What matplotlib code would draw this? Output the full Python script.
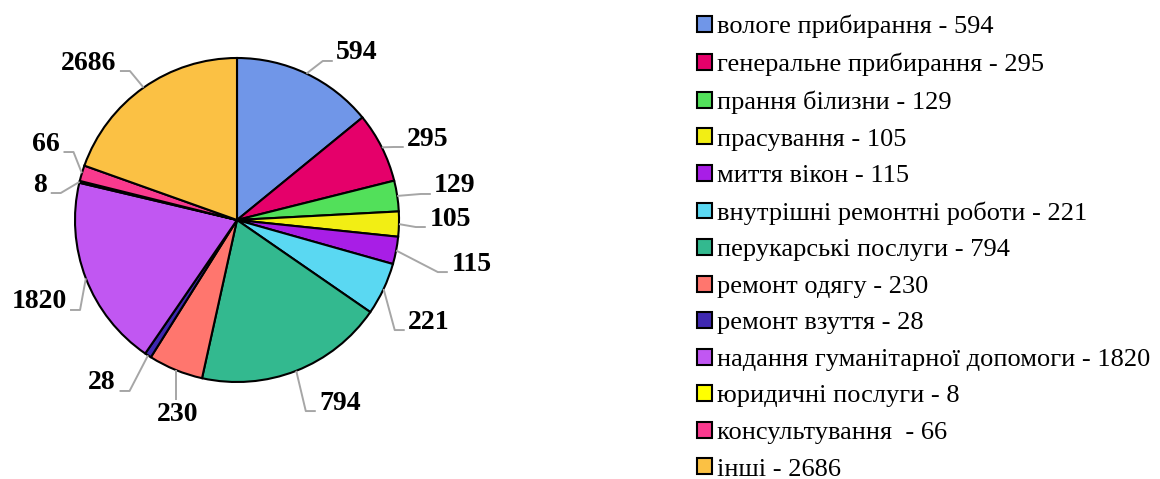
import matplotlib
matplotlib.use('Agg')
import matplotlib.pyplot as plt
from matplotlib.patches import Patch
import numpy as np

# categories and the counts printed on the chart
categories = ['вологе прибирання', 'генеральне прибирання', 'прання білизни',
              'прасування', 'миття вікон', 'внутрішні ремонтні роботи',
              'перукарські послуги', 'ремонт одягу', 'ремонт взуття',
              'надання гуманітарної допомоги', 'юридичні послуги',
              'консультування ', 'інші']
counts = [594, 295, 129, 105, 115, 221, 794, 230, 28, 1820, 8, 66, 2686]
# slice sizes as drawn in the picture (the two biggest slices are not to scale)
slice_sizes = [594, 295, 129, 105, 115, 221, 794, 230, 28, 805, 8, 66, 824]
colors = ['#7096E8', '#E5006A', '#52E05A', '#F2EE14', '#A81EE6', '#5AD8F2',
          '#33B98F', '#FF766E', '#3F28B0', '#C157F2', '#FFFF00', '#F93A8E',
          '#FBC144']

# label positions (unit = pie radius, pie centre at 0,0)
label_pos = [(0.741, 1.031), (1.179, 0.50), (1.346, 0.21), (1.315, 0.006),
             (1.451, -0.272), (1.185, -0.63), (0.636, -1.13), (-0.364, -1.198),
             (-0.833, -1.006), (-1.222, -0.506), (-1.216, 0.216),
             (-1.179, 0.469), (-0.914, 0.969)]

W, H, R = 1160, 479, 162.0
cx, cy = 237, 220
fig = plt.figure(figsize=(W / 100, H / 100), dpi=100)
ax = fig.add_axes([0, 0, 1, 1])

wedges, _ = ax.pie(slice_sizes, colors=colors, startangle=90, counterclock=False,
                   radius=1, center=(0, 0), frame=True,
                   wedgeprops=dict(edgecolor='black', linewidth=1.5))
ax.set_xlim(-cx / R, (W - cx) / R)
ax.set_ylim(-(H - cy) / R, cy / R)
ax.set_aspect('auto')
ax.axis('off')

px = 1 / R
for w, n, (lx, ly) in zip(wedges, counts, label_pos):
    mid = np.deg2rad((w.theta1 + w.theta2) / 2)
    rx, ry = np.cos(mid), np.sin(mid)
    txt = str(n)
    hw = len(txt) * 13.5 / 2 * px
    ax.text(lx, ly, txt, ha='center', va='center', fontsize=20,
            fontweight='bold', family='Liberation Serif')
    if abs(lx - rx) < hw:
        xs = [rx, rx]
        ys = [ry, ly + 14 * px]
    else:
        side = 1 if lx > rx else -1
        ex = lx - side * (hw + 4 * px)
        ey = ly - 8 * px
        xs = [rx, ex - side * 10 * px, ex]
        ys = [ry, ey, ey]
    ax.plot(xs, ys, color='#A6A6A6', lw=1.4, solid_capstyle='butt')

handles = [Patch(facecolor=c, edgecolor='black', linewidth=1.5) for c in colors]
labels = [f'{c} - {n}' for c, n in zip(categories, counts)]
fig.legend(handles, labels, loc='upper left', bbox_to_anchor=(697 / W, 1 - 15 / H),
           frameon=False, borderpad=0, borderaxespad=0,
           prop=dict(family='Liberation Serif', size=19),
           handlelength=0.55, handleheight=0.55, handletextpad=0.2,
           labelspacing=0.54)

fig.savefig('out.png', dpi=100)
